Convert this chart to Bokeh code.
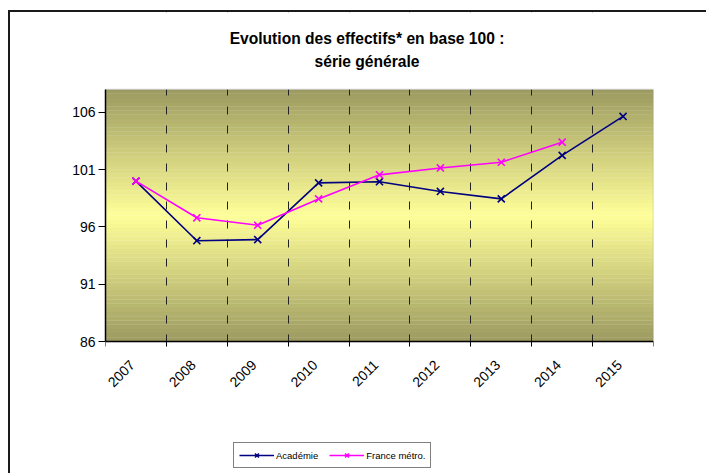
import numpy as np
from math import pi
from bokeh.plotting import figure
from bokeh.models import (FixedTicker, Grid, Label, BoxAnnotation, Legend,
                          LegendItem, Range1d)
from bokeh.embed import file_html
from bokeh.resources import INLINE

# ---- data ----
years = ["2007", "2008", "2009", "2010", "2011", "2012", "2013", "2014", "2015"]
academie = [100.0, 94.8, 94.9, 99.85, 99.95, 99.1, 98.45, 102.25, 105.65]
france = [100.0, 96.8, 96.15, 98.45, 100.55, 101.15, 101.65, 103.4]
y_ticks = [86, 91, 96, 101, 106]
y_min, y_max = 86, 108
title1 = "Evolution des effectifs* en base 100 :"
title2 = "série générale"

FONT = "Liberation Sans"
n = len(years)
xc = [i + 0.5 for i in range(n)]
label_pos = [i + 0.44 for i in range(n)]

# ---- layout (pixels in the page) ----
CANVAS_TOP, CANVAS_LEFT = 12, 10
PLOT_L, PLOT_R, PLOT_T, PLOT_B = 105, 653, 89, 341
PAGE_W, PAGE_H = 708, 475
ppu = (PLOT_B - PLOT_T) / (y_max - y_min)           # pixels per y unit
frame_top = y_max + (PLOT_T - CANVAS_TOP) / ppu     # frame spans whole canvas height
frame_bot = y_min - (PAGE_H - PLOT_B) / ppu
xppu = (PLOT_R - PLOT_L) / n

p = figure(width=PAGE_W - CANVAS_LEFT, height=PAGE_H - CANVAS_TOP,
           x_range=Range1d(0, n), y_range=Range1d(frame_bot, frame_top),
           output_backend="svg", toolbar_location=None,
           min_border_left=PLOT_L - CANVAS_LEFT, min_border_right=PAGE_W - PLOT_R,
           min_border_top=0, min_border_bottom=0)
p.margin = (10, 0, 0, 8)
p.styles = {"border-left": "2px solid #1a1a1a", "border-top": "2px solid #1a1a1a"}
p.background_fill_color = "white"
p.border_fill_color = "white"
p.outline_line_color = None

# gradient background (olive at top/bottom, light yellow in the middle)
edge_col = np.array([0x9c, 0x9a, 0x60], dtype=float)
mid_col = np.array([0xff, 0xff, 0x99], dtype=float)
nb = 60
edges = np.linspace(y_min, y_max, nb + 1)
for i in range(nb):
    t = abs((i + 0.5) / nb - 0.5) * 2
    c = mid_col + (edge_col - mid_col) * t
    hexc = "#%02x%02x%02x" % tuple(int(round(v)) for v in c)
    p.add_layout(BoxAnnotation(bottom=edges[i], top=edges[i + 1], left=0, right=n,
                               fill_color=hexc, fill_alpha=1, line_color=hexc,
                               line_width=1, level="underlay"))

# grids (dashed vertical lines at category boundaries)
p.xgrid.visible = False
p.ygrid.visible = False
p.add_layout(Grid(dimension=0, ticker=FixedTicker(ticks=list(range(1, n))),
                  grid_line_color="#222222", grid_line_dash="8 11", grid_line_width=1,
                  level="underlay"))
# mask grid outside the plot area
p.add_layout(BoxAnnotation(top=y_min, fill_color="white", fill_alpha=1,
                           line_color=None, level="underlay"))
p.add_layout(BoxAnnotation(bottom=y_max, fill_color="white", fill_alpha=1,
                           line_color=None, level="underlay"))
# plot-area outline
p.add_layout(BoxAnnotation(bottom=y_min, top=y_max, left=0, right=n, fill_alpha=0,
                           line_color="#808080", line_width=1.5, level="underlay"))

# x axis
p.xaxis.fixed_location = y_min
p.xaxis.ticker = FixedTicker(ticks=label_pos, minor_ticks=list(range(n + 1)))
p.xaxis.major_label_overrides = {label_pos[i]: years[i] for i in range(n)}
p.xaxis.major_tick_line_color = None
p.xaxis.major_tick_out = 0
p.xaxis.major_tick_in = 0
p.xaxis.minor_tick_out = 5
p.xaxis.minor_tick_in = 0
p.xaxis.minor_tick_line_color = "black"
p.xaxis.major_label_orientation = pi / 4
p.xaxis.major_label_standoff = 16
p.xaxis.major_label_text_font = FONT
p.xaxis.major_label_text_font_size = "14px"
p.xaxis.major_label_text_color = "black"
p.xaxis.axis_line_color = "black"
p.xaxis.axis_line_width = 1.5

# y axis
p.yaxis.bounds = (y_min, y_max)
p.yaxis.ticker = FixedTicker(ticks=y_ticks)
p.yaxis.minor_tick_line_color = None
p.yaxis.major_tick_out = 7
p.yaxis.major_tick_in = 0
p.yaxis.major_tick_line_color = "black"
p.yaxis.major_label_standoff = 3
p.yaxis.major_label_text_font = FONT
p.yaxis.major_label_text_font_size = "14px"
p.yaxis.major_label_text_color = "black"
p.yaxis.axis_line_color = "black"
p.yaxis.axis_line_width = 1.5

# titles
tx = (366.5 - PLOT_L) / xppu
for txt, py in ((title1, 38), (title2, 61)):
    p.add_layout(Label(x=tx, y=y_max + (PLOT_T - py) / ppu, text=txt,
                       text_align="center", text_baseline="middle",
                       text_font=FONT, text_font_style="bold", text_font_size="15.6px",
                       text_color="black"))

# series
l1 = p.line(xc, academie, line_color="#000080", line_width=1.6)
s1 = p.scatter(xc, academie, marker="x", size=10, line_color="#000080", line_width=1.6)
xf = xc[:len(france)]
l2 = p.line(xf, france, line_color="#ff00ff", line_width=1.6)
s2 = p.scatter(xf, france, marker="x", size=10, line_color="#ff00ff", line_width=1.6)

legend = Legend(items=[LegendItem(label="Académie", renderers=[l1, s1]),
                       LegendItem(label="France métro.", renderers=[l2, s2])],
                orientation="horizontal", location=(128, PAGE_H - 468),
                border_line_color="black", border_line_width=1,
                background_fill_color="white", background_fill_alpha=1,
                label_text_font=FONT, label_text_font_size="9.5px",
                label_text_color="black",
                glyph_width=35, glyph_height=14, label_standoff=2, spacing=11,
                padding=5, margin=0)
p.add_layout(legend)

open("out.html", "w").write(file_html(p, INLINE))
